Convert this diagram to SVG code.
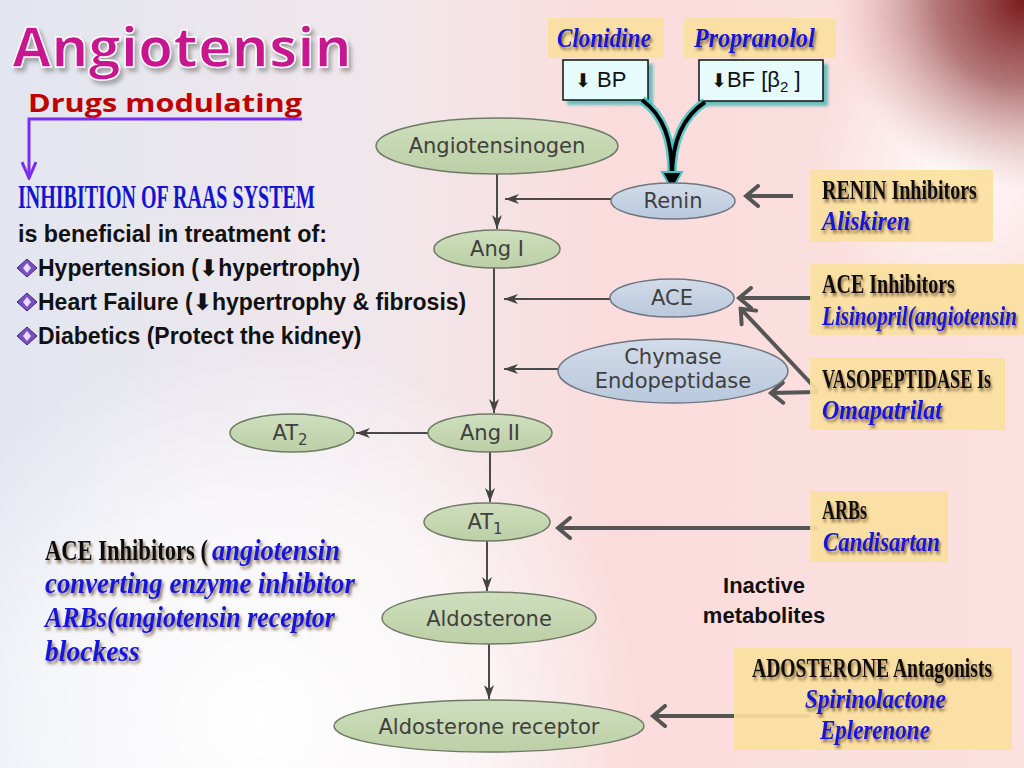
<svg xmlns="http://www.w3.org/2000/svg" width="1024" height="768" viewBox="0 0 1024 768">
<defs>
  <linearGradient id="bgL" x1="0" y1="0" x2="1" y2="0">
    <stop offset="0" stop-color="#e2e6f0"/>
    <stop offset="0.38" stop-color="#f1e7eb"/>
    <stop offset="0.6" stop-color="#fbdcdc"/>
    <stop offset="1" stop-color="#fbe0e0"/>
  </linearGradient>
  <radialGradient id="wBL" cx="260" cy="720" r="380" gradientUnits="userSpaceOnUse">
    <stop offset="0" stop-color="#ffffff" stop-opacity="1"/>
    <stop offset="0.6" stop-color="#ffffff" stop-opacity="0.6"/>
    <stop offset="1" stop-color="#ffffff" stop-opacity="0"/>
  </radialGradient>
  <radialGradient id="wTR" cx="960" cy="170" r="150" gradientUnits="userSpaceOnUse">
    <stop offset="0" stop-color="#ffffff" stop-opacity="0.85"/>
    <stop offset="1" stop-color="#ffffff" stop-opacity="0"/>
  </radialGradient>
  <radialGradient id="rTR" cx="1024" cy="0" r="190" gradientUnits="userSpaceOnUse">
    <stop offset="0" stop-color="#7a1a1a" stop-opacity="1"/>
    <stop offset="0.45" stop-color="#a05a5a" stop-opacity="0.8"/>
    <stop offset="1" stop-color="#d8a8a8" stop-opacity="0"/>
  </radialGradient>
  <linearGradient id="gGreen" x1="0" y1="0" x2="0" y2="1">
    <stop offset="0" stop-color="#cfdfbe"/>
    <stop offset="1" stop-color="#bccfa6"/>
  </linearGradient>
  <linearGradient id="gBlue" x1="0" y1="0" x2="0" y2="1">
    <stop offset="0" stop-color="#d2dcea"/>
    <stop offset="1" stop-color="#b9c8dc"/>
  </linearGradient>
  <filter id="ws" x="-25%" y="-60%" width="150%" height="220%">
    <feDropShadow dx="2" dy="3" stdDeviation="1.6" flood-color="#4a2a10" flood-opacity="0.65"/>
  </filter>
  <filter id="ts" x="-10%" y="-30%" width="130%" height="170%">
    <feDropShadow dx="3" dy="4" stdDeviation="2" flood-color="#777" flood-opacity="0.6"/>
  </filter>
  <filter id="teal" x="-20%" y="-20%" width="150%" height="160%">
    <feGaussianBlur stdDeviation="1.5"/>
  </filter>
  <marker id="tri" viewBox="0 0 14 10" refX="14" refY="5" markerWidth="14" markerHeight="10" markerUnits="userSpaceOnUse" orient="auto">
    <path d="M0,0 L14,5 L0,10 L4,5 z" fill="#444"/>
  </marker>
  <marker id="chev" viewBox="0 0 18 24" refX="16" refY="12" markerWidth="18" markerHeight="24" markerUnits="userSpaceOnUse" orient="auto">
    <path d="M3,2 L15,12 L3,22" fill="none" stroke="#555" stroke-width="4" stroke-linecap="round"/>
  </marker>
  <marker id="purp" viewBox="0 0 20 16" refX="18" refY="8" markerWidth="20" markerHeight="16" markerUnits="userSpaceOnUse" orient="auto">
    <path d="M2,1 L18,8 L2,15" fill="none" stroke="#7a2cf0" stroke-width="3"/>
  </marker>
  <style>
    .node-g { fill: url(#gGreen); stroke: #6f7a66; stroke-width: 1.5; }
    .node-b { fill: url(#gBlue); stroke: #6f7680; stroke-width: 1.5; }
    .nt { font-family: "DejaVu Sans", sans-serif; font-size: 21px; fill: #3f3f3f; text-anchor: middle; }
    .conn { stroke: #4a4a4a; stroke-width: 2; fill: none; marker-end: url(#tri); }
    .drug-arrow { stroke: #555; stroke-width: 4; fill: none; marker-end: url(#chev); }
    .box { fill: #fbe0a0; opacity: 0.92; }
    .cond { font-family: "Liberation Serif", serif; font-weight: bold; font-size: 28px; fill: #111; filter: url(#ws); }
    .drug { font-family: "Liberation Serif", serif; font-weight: bold; font-style: italic; font-size: 28px; fill: #1515d8; filter: url(#ws); }
    .big { font-size: 29px; }
    .body { font-family: "Liberation Sans", Arial, sans-serif; font-weight: bold; font-size: 23px; fill: #111; }
    .sym { font-family: "DejaVu Sans", sans-serif; }
    .effbox { fill: #e6fbfb; stroke: #111; stroke-width: 1.5; }
    .effsh { fill: #2fb0b0; opacity: 0.7; filter: url(#teal); }
    .efft { font-family: "Liberation Sans", Arial, sans-serif; font-size: 22px; fill: #111; }
  </style>
</defs>

<!-- background -->
<rect x="0" y="0" width="1024" height="768" fill="url(#bgL)"/>
<rect x="0" y="0" width="1024" height="768" fill="url(#wBL)"/>
<rect x="0" y="0" width="1024" height="768" fill="url(#wTR)"/>
<rect x="0" y="0" width="1024" height="768" fill="url(#rTR)"/>

<!-- title -->
<g id="title">
  <text x="12" y="67" font-family="'Open Sans', 'Noto Sans', sans-serif" font-weight="bold" font-size="56" fill="#c8168f" stroke="#ffffff" stroke-width="1.5" filter="url(#ts)" textLength="340" lengthAdjust="spacingAndGlyphs">Angiotensin</text>
  <text x="28" y="112" font-family="'Open Sans', 'Noto Sans', sans-serif" font-weight="bold" font-size="25" fill="#c00000" textLength="274" lengthAdjust="spacingAndGlyphs">Drugs modulating</text>
</g>

<!-- left info text -->
<g id="info">
  <text x="18" y="208" font-family="'Liberation Serif', serif" font-weight="bold" font-size="33" fill="#1414d0" transform="translate(18 208) scale(0.607 1) translate(-18 -208)">INHIBITION OF RAAS SYSTEM</text>
  <text class="body" x="18" y="242" textLength="309" lengthAdjust="spacingAndGlyphs">is beneficial in treatment of:</text>
  <g id="bullets">
    <polygon points="27,259 37,268 27,277 17,268" fill="#7a4fc0" stroke="#3d2a80" stroke-width="1"/>
    <polygon points="27,263 31,268 27,273 23,268" fill="#e8dcff"/>
    <polygon points="27,293 37,302 27,311 17,302" fill="#7a4fc0" stroke="#3d2a80" stroke-width="1"/>
    <polygon points="27,297 31,302 27,307 23,302" fill="#e8dcff"/>
    <polygon points="27,327 37,336 27,345 17,336" fill="#7a4fc0" stroke="#3d2a80" stroke-width="1"/>
    <polygon points="27,331 31,336 27,341 23,336" fill="#e8dcff"/>
  </g>
  <text class="body" x="38" y="276">Hypertension (<tspan class="sym">⬇</tspan>hypertrophy)</text>
  <text class="body" x="38" y="310">Heart Failure (<tspan class="sym">⬇</tspan>hypertrophy &amp; fibrosis)</text>
  <text class="body" x="38" y="344">Diabetics (Protect the kidney)</text>
</g>

<!-- top drug boxes -->
<g id="clonidine">
  <rect class="box" x="548" y="18" width="116" height="40"/>
  <text class="drug" x="557" y="47" transform="translate(557 47) scale(0.827 1) translate(-557 -47)">Clonidine</text>
</g>
<g id="propranolol">
  <rect class="box" x="684" y="18" width="152" height="40"/>
  <text class="drug" x="694" y="47" transform="translate(694 47) scale(0.864 1) translate(-694 -47)">Propranolol</text>
</g>
<g id="bp">
  <rect class="effsh" x="567" y="64" width="86" height="41"/>
  <rect class="effbox" x="563" y="60" width="85" height="40"/>
  <text class="efft" x="575" y="87"><tspan class="sym" font-size="19">⬇</tspan> BP</text>
</g>
<g id="bf">
  <rect class="effsh" x="703" y="64" width="125" height="42"/>
  <rect class="effbox" x="699" y="60" width="124" height="41"/>
  <text class="efft" x="711" y="87"><tspan class="sym" font-size="19">⬇</tspan>BF [β<tspan font-size="15" dy="5">2</tspan><tspan dy="-5"> ]</tspan></text>
</g>

<!-- connectors -->
<g id="connectors">
  <path d="M302,119 L29,119 L29,178" fill="none" stroke="#7a2cf0" stroke-width="3" marker-end="url(#purp)"/>
  <line class="conn" x1="497" y1="174" x2="497" y2="229"/>
  <line class="conn" x1="611" y1="199" x2="505" y2="199"/>
  <line class="conn" x1="494" y1="268" x2="494" y2="413"/>
  <line class="conn" x1="610" y1="299" x2="504" y2="299"/>
  <line class="conn" x1="558" y1="369" x2="504" y2="369"/>
  <line class="conn" x1="428" y1="433" x2="356" y2="433"/>
  <line class="conn" x1="490" y1="452" x2="490" y2="502"/>
  <line class="conn" x1="487" y1="541" x2="487" y2="591"/>
  <line class="conn" x1="489" y1="644" x2="489" y2="699"/>
  <line class="drug-arrow" x1="793" y1="196" x2="745" y2="196"/>
  <line class="drug-arrow" x1="812" y1="298" x2="738" y2="298"/>
  <line class="drug-arrow" x1="818" y1="391" x2="740" y2="308"/>
  <line class="drug-arrow" x1="818" y1="392" x2="770" y2="393"/>
  <line class="drug-arrow" x1="818" y1="528" x2="557" y2="528"/>
  <line class="drug-arrow" x1="810" y1="716" x2="652" y2="716"/>
  <path d="M642,100 C664,116 672,140 672,176" fill="none" stroke="#3cc4c4" stroke-width="9" opacity="0.8"/>
  <path d="M705,102 C684,116 672,140 672,176" fill="none" stroke="#3cc4c4" stroke-width="9" opacity="0.8"/>
  <path d="M642,100 C664,116 672,140 672,176" fill="none" stroke="#000" stroke-width="4"/>
  <path d="M705,102 C684,116 672,140 672,176" fill="none" stroke="#000" stroke-width="4"/>
  <polygon points="662,172 682,172 672,190" fill="#000" stroke="#3cc4c4" stroke-width="2"/>
</g>

<!-- pathway nodes -->
<g id="angiotensinogen">
  <ellipse class="node-g" cx="497" cy="146" rx="121" ry="28"/>
  <text class="nt" x="497" y="153">Angiotensinogen</text>
</g>
<g id="renin">
  <ellipse class="node-b" cx="673" cy="201" rx="62" ry="18"/>
  <text class="nt" x="673" y="208">Renin</text>
</g>
<g id="ang1">
  <ellipse class="node-g" cx="497" cy="249" rx="63" ry="19"/>
  <text class="nt" x="497" y="256">Ang I</text>
</g>
<g id="ace">
  <ellipse class="node-b" cx="672" cy="298" rx="62" ry="19"/>
  <text class="nt" x="672" y="305">ACE</text>
</g>
<g id="chymase">
  <ellipse class="node-b" cx="673" cy="371" rx="115" ry="32"/>
  <text class="nt" x="673" y="364">Chymase</text>
  <text class="nt" x="673" y="388">Endopeptidase</text>
</g>
<g id="at2">
  <ellipse class="node-g" cx="292" cy="433" rx="62" ry="19"/>
  <text class="nt" x="290" y="440">AT<tspan font-size="15" dy="5">2</tspan></text>
</g>
<g id="ang2">
  <ellipse class="node-g" cx="490" cy="433" rx="62" ry="19"/>
  <text class="nt" x="490" y="440">Ang II</text>
</g>
<g id="at1">
  <ellipse class="node-g" cx="487" cy="522" rx="63" ry="19"/>
  <text class="nt" x="485" y="529">AT<tspan font-size="15" dy="5">1</tspan></text>
</g>
<g id="aldosterone">
  <ellipse class="node-g" cx="489" cy="618" rx="107" ry="26"/>
  <text class="nt" x="489" y="626" font-size="22">Aldosterone</text>
</g>
<g id="aldo-receptor">
  <ellipse class="node-g" cx="489" cy="726" rx="155" ry="26"/>
  <text class="nt" x="489" y="734" font-size="22">Aldosterone receptor</text>
</g>

<!-- right drug boxes -->
<g id="renin-inhibitors">
  <rect class="box" x="810" y="170" width="183" height="72"/>
  <text class="cond" x="822" y="199" transform="translate(822 199) scale(0.714 1) translate(-822 -199)">RENIN Inhibitors</text>
  <text class="drug" x="822" y="230" transform="translate(822 230) scale(0.832 1) translate(-822 -230)">Aliskiren</text>
</g>
<g id="ace-inhibitors">
  <rect class="box" x="810" y="264" width="214" height="71"/>
  <text class="cond" x="822" y="293" transform="translate(822 293) scale(0.715 1) translate(-822 -293)">ACE Inhibitors</text>
  <text class="drug" x="822" y="325" transform="translate(822 325) scale(0.755 1) translate(-822 -325)">Lisinopril(angiotensin</text>
</g>
<g id="vasopeptidase">
  <rect class="box" x="810" y="358" width="195" height="72"/>
  <text class="cond" x="822" y="388" transform="translate(822 388) scale(0.65 1) translate(-822 -388)">VASOPEPTIDASE Is</text>
  <text class="drug" x="822" y="419" transform="translate(822 419) scale(0.857 1) translate(-822 -419)">Omapatrilat</text>
</g>
<g id="arbs">
  <rect class="box" x="810" y="491" width="138" height="71"/>
  <text class="cond" x="822" y="519" transform="translate(822 519) scale(0.643 1) translate(-822 -519)">ARBs</text>
  <text class="drug" x="823" y="551" transform="translate(823 551) scale(0.817 1) translate(-823 -551)">Candisartan</text>
</g>
<g id="aldo-antagonists">
  <rect class="box" x="734" y="648" width="278" height="102"/>
  <text class="cond" x="752" y="677" transform="translate(752 677) scale(0.70 1) translate(-752 -677)">ADOSTERONE Antagonists</text>
  <text class="drug" x="805" y="708" transform="translate(805 708) scale(0.831 1) translate(-805 -708)">Spirinolactone</text>
  <text class="drug" x="820" y="739" transform="translate(820 739) scale(0.822 1) translate(-820 -739)">Eplerenone</text>
</g>

<!-- inactive metabolites -->
<g id="inactive">
  <text x="764" y="593" font-family="'Liberation Sans', Arial, sans-serif" font-weight="bold" font-size="22" fill="#111" text-anchor="middle">Inactive</text>
  <text x="764" y="623" font-family="'Liberation Sans', Arial, sans-serif" font-weight="bold" font-size="22" fill="#111" text-anchor="middle">metabolites</text>
</g>

<!-- bottom-left note -->
<g id="note">
  <text class="cond big" x="45" y="560" transform="translate(45 560) scale(0.778 1) translate(-45 -560)">ACE Inhibitors (</text>
  <text class="drug big" x="212" y="560" transform="translate(212 560) scale(0.913 1) translate(-212 -560)">angiotensin</text>
  <text class="drug big" x="45" y="593" transform="translate(45 593) scale(0.925 1) translate(-45 -593)">converting enzyme inhibitor</text>
  <text class="drug big" x="45" y="627" transform="translate(45 627) scale(0.893 1) translate(-45 -627)">ARBs(angiotensin receptor</text>
  <text class="drug big" x="45" y="661" transform="translate(45 661) scale(0.95 1) translate(-45 -661)">blockess</text>
</g>
</svg>
